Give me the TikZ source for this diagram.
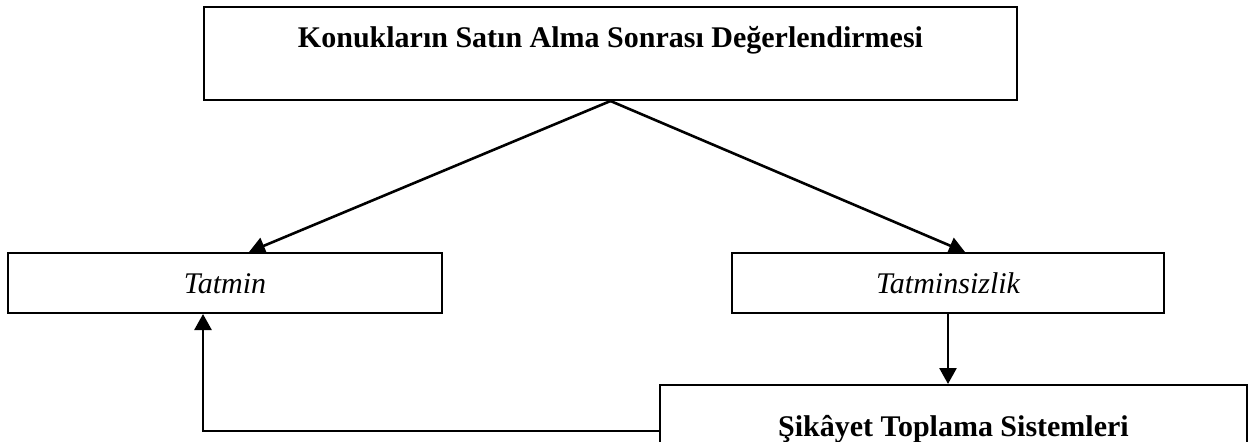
\documentclass[tikz,border=0pt]{standalone}
\usepackage{fontspec}
\setmainfont{Liberation Serif}
\usetikzlibrary{arrows.meta}
\begin{document}
\begin{tikzpicture}[x=0.5pt,y=0.5pt,
  box/.style={draw=black,line width=1pt,inner sep=0pt,font=\fontsize{15pt}{18pt}\selectfont,
    text height=10.5pt,text depth=0pt},
  conn/.style={line width=1.3pt,-{Triangle[length=8pt,width=8.5pt]}}]
\useasboundingbox (0,0) rectangle (1248,441);
\clip (0,0) rectangle (1248,441);
\node[box,minimum width=406.5pt,minimum height=46.5pt,text height=20pt,text depth=26.5pt,font=\fontsize{15pt}{18pt}\selectfont\bfseries]
  (top) at (610.5,387.5) {Konukların Satın Alma Sonrası Değerlendirmesi};
\node[box,minimum width=217pt,minimum height=30pt,font=\fontsize{15pt}{18pt}\selectfont\itshape]
  (tatmin) at (225,158) {Tatmin};
\node[box,minimum width=216pt,minimum height=30pt,font=\fontsize{15pt}{18pt}\selectfont\itshape]
  (tatminsiz) at (948,158) {Tatminsizlik};
\node[box,minimum width=293.5pt,minimum height=40.5pt,font=\fontsize{15pt}{18pt}\selectfont\bfseries]
  (sikayet) at (953.5,15.5) {Şikâyet Toplama Sistemleri};
\draw[conn] (top.south) -- ([xshift=12pt]tatmin.north);
\draw[conn] (top.south) -- ([xshift=8.5pt]tatminsiz.north);
\draw[conn] (tatminsiz.south) -- (tatminsiz.south |- sikayet.north);
\draw[conn] ([yshift=-2.75pt]sikayet.west) -| (tatmin.south -| top.west);
\end{tikzpicture}
\end{document}
